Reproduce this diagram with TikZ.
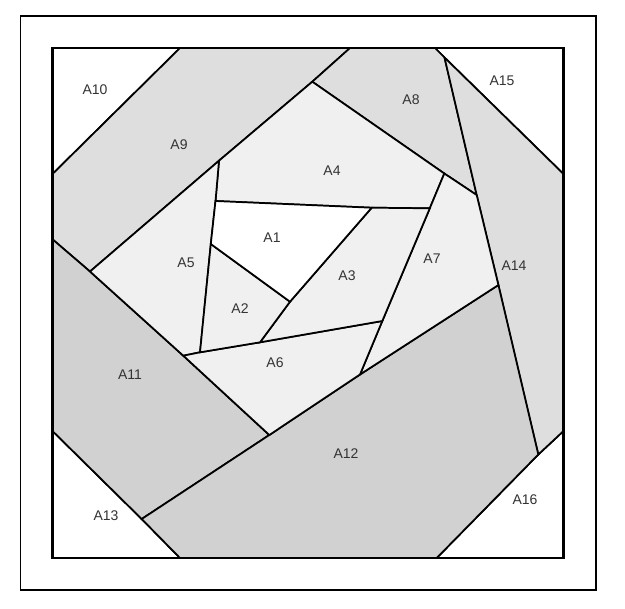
\documentclass[tikz,border=0pt]{standalone}
\usepackage{fontspec}
\setmainfont{Liberation Sans}
\definecolor{patchlight}{gray}{0.94}
\definecolor{patchmid}{gray}{0.87}
\definecolor{patchdark}{gray}{0.82}
\tikzset{
    patch/.style={draw=black,line width=1.3pt,line join=miter},
    tag/.style={font=\fontsize{10.5}{12}\selectfont,text=black!80,inner sep=0pt}
}
\begin{document}
\begin{tikzpicture}[x=0.75pt,y=-0.75pt]
            \useasboundingbox (0,0) rectangle (625,608);
            \draw [line width=0.8pt] (20.5,16) rectangle (596,590);

            % corners of the block
            \coordinate (tl) at (52.5,48);
            \coordinate (tr) at (563.5,48);
            \coordinate (br) at (563.5,558);
            \coordinate (bl) at (52.5,558);

            % points of the seams
            \coordinate (a) at (180,48);
            \coordinate (b) at (52.5,174);
            \coordinate (c) at (350,48);
            \coordinate (d) at (312.3,81.7);
            \coordinate (e) at (219,160.7);
            \coordinate (f) at (90,271.5);
            \coordinate (g) at (52.5,239.3);
            \coordinate (h) at (435,48);
            \coordinate (i) at (444.5,57.5);
            \coordinate (j) at (563.5,174);
            \coordinate (k) at (476.7,195);
            \coordinate (m) at (444.3,173.5);
            \coordinate (n) at (429.8,208.3);
            \coordinate (o) at (215.5,201);
            \coordinate (t) at (371.7,207.7);
            \coordinate (u) at (290,301.7);
            \coordinate (v) at (210.8,244);
            \coordinate (w) at (260,342.3);
            \coordinate (x) at (200,352.3);
            \coordinate (y) at (183.3,355.7);
            \coordinate (s) at (382.3,321);
            \coordinate (r) at (360,374.5);
            \coordinate (q) at (498.4,285);
            \coordinate (z) at (269.3,435);
            \coordinate (aa) at (141.7,519);
            \coordinate (bb) at (52.5,431);
            \coordinate (cc) at (180,558);
            \coordinate (dd) at (538.3,454.5);
            \coordinate (ee) at (436.7,558);
            \coordinate (ff) at (563.5,431);

            % pieces
            \begin{scope}[every path/.style={patch}]
                \path [fill=white] (tl) -- (a) -- (b) -- cycle;
                \path [fill=white] (h) -- (tr) -- (j) -- (i) -- cycle;
                \path [fill=white] (bb) -- (aa) -- (cc) -- (bl) -- cycle;
                \path [fill=white] (ee) -- (dd) -- (ff) -- (br) -- cycle;
                \path [fill=patchmid] (a) -- (c) -- (d) -- (e) -- (f) -- (g) -- (b) -- cycle;
                \path [fill=patchmid] (c) -- (h) -- (i) -- (k) -- (m) -- (d) -- cycle;
                \path [fill=patchmid] (i) -- (j) -- (ff) -- (dd) -- (q) -- (k) -- cycle;
                \path [fill=patchdark] (g) -- (f) -- (y) -- (z) -- (aa) -- (bb) -- cycle;
                \path [fill=patchdark] (cc) -- (aa) -- (z) -- (r) -- (q) -- (dd) -- (ee) -- cycle;
                \path [fill=patchlight] (d) -- (m) -- (n) -- (t) -- (o) -- (e) -- cycle;
                \path [fill=patchlight] (e) -- (o) -- (v) -- (x) -- (y) -- (f) -- cycle;
                \path [fill=patchlight] (m) -- (k) -- (q) -- (r) -- (s) -- (n) -- cycle;
                \path [fill=patchlight] (y) -- (x) -- (w) -- (s) -- (r) -- (z) -- cycle;
                \path [fill=patchlight] (t) -- (n) -- (s) -- (w) -- (u) -- cycle;
                \path [fill=patchlight] (v) -- (u) -- (w) -- (x) -- cycle;
                \path [fill=white] (o) -- (t) -- (u) -- (v) -- cycle;
            \end{scope}
            \draw [line width=1.7pt] (tl) rectangle (br);

            \begin{scope}[every node/.style={tag}]
                \node (l1) at (272,238) {A1};
                \node (l2) at (240,309) {A2};
                \node (l3) at (347,276) {A3};
                \node (l4) at (332,171) {A4};
                \node (l5) at (186,263) {A5};
                \node (l6) at (275,363) {A6};
                \node (l7) at (432,259) {A7};
                \node (l8) at (411,100) {A8};
                \node (l9) at (179,145) {A9};
                \node (l10) at (95,90) {A10};
                \node (l11) at (130,375) {A11};
                \node (l12) at (346,454) {A12};
                \node (l13) at (106,516) {A13};
                \node (l14) at (514,266) {A14};
                \node (l15) at (502,81) {A15};
                \node (l16) at (525,500) {A16};
            \end{scope}
        \end{tikzpicture}
\end{document}
